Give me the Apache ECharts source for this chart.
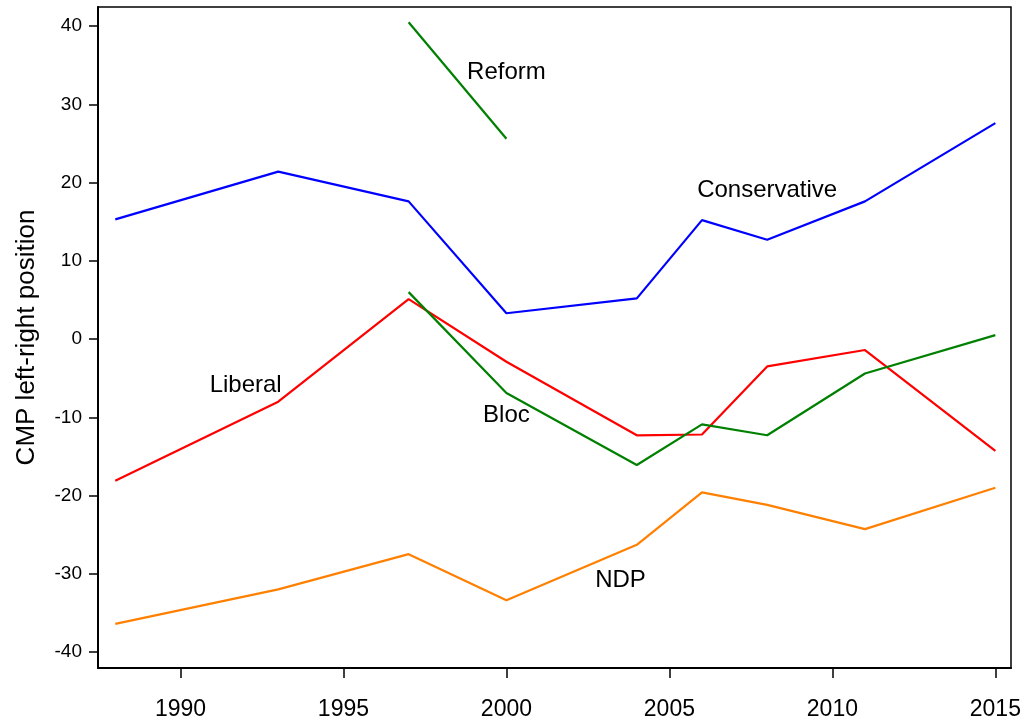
<!DOCTYPE html>
<html>
<head>
<meta charset="utf-8">
<script src="https://cdn.jsdelivr.net/npm/echarts@6/dist/echarts.min.js"></script>
<style>
  html, body { margin: 0; padding: 0; background: #fff; }
  #main { width: 1025px; height: 724px; }
</style>
</head>
<body>
<div id="main"></div>
<script>
// election years
var years = [1988, 1993, 1997, 2000, 2004, 2006, 2008, 2011, 2015];

// CMP left-right scores, '-' = party not running
var conservative = [15.3, 21.4, 17.6, 3.3, 5.2, 15.2, 12.7, 17.6, 27.6];
var liberal = [-18.1, -8.0, 5.1, -2.9, -12.3, -12.2, -3.5, -1.4, -14.3];
var bloc = ['-', '-', 6.0, -6.9, -16.1, -10.9, -12.3, -4.4, 0.5];
var ndp = [-36.4, -32.0, -27.5, -33.4, -26.3, -19.6, -21.2, -24.3, -19.0];
var reform = ['-', '-', 40.5, 25.6, '-', '-', '-', '-', '-'];

// party name labels, placed in data units
var labelNames = ['Reform', 'Conservative', 'Liberal', 'Bloc', 'NDP'];
var labelYears = [2000, 2008, 1992, 2000, 2003.5];
var labelValues = [34.1, 19.0, -5.9, -9.8, -30.9];

var xTicks = [1990, 1995, 2000, 2005, 2010, 2015];
var yTicks = [-40, -30, -20, -10, 0, 10, 20, 30, 40];

var font = "'Liberation Sans', Arial, sans-serif";

function pairs(vals) {
  return years.map(function (y, i) {
    return [y, vals[i]];
  });
}

function lineSeries(name, vals, color) {
  return {
    type: "line",
    name: name,
    data: pairs(vals),
    showSymbol: false,
    symbol: "none",
    connectNulls: false,
    lineStyle: { color: color, width: 2.2 },
    itemStyle: { color: color },
  };
}

var myChart = echarts.init(document.getElementById("main"));
var option = {
  animation: false,
  backgroundColor: "#fff",
  grid: {
    left: 98,
    right: 14,
    top: 7,
    bottom: 56,
    show: true,
    borderColor: "#000",
    borderWidth: 1.5,
    backgroundColor: "transparent",
  },
  xAxis: {
    type: "value",
    min: 1987.47,
    max: 2015.48,
    splitLine: { show: false },
    axisLine: { show: true, onZero: false, lineStyle: { color: "#000", width: 2 } },
    axisTick: {
      show: true,
      length: 10,
      customValues: xTicks,
      lineStyle: { color: "#000", width: 1.5 },
    },
    axisLabel: {
      customValues: xTicks,
      margin: 30,
      color: "#000",
      fontFamily: font,
      fontSize: 23,
      formatter: function (v) { return String(v); },
    },
  },
  yAxis: {
    type: "value",
    min: -42.05,
    max: 42.45,
    name: "CMP left-right position",
    nameLocation: "middle",
    nameGap: 58,
    nameRotate: 90,
    nameTextStyle: { color: "#000", fontFamily: font, fontSize: 26 },
    splitLine: { show: false },
    axisLine: { show: true, onZero: false, lineStyle: { color: "#000", width: 2 } },
    axisTick: {
      show: true,
      length: 9,
      customValues: yTicks,
      lineStyle: { color: "#000", width: 1.5 },
    },
    axisLabel: {
      customValues: yTicks,
      margin: 16,
      color: "#000",
      fontFamily: font,
      fontSize: 19,
    },
  },
  series: [
    lineSeries("Conservative", conservative, "#0000ff"),
    lineSeries("Liberal", liberal, "#ff0000"),
    lineSeries("Bloc", bloc, "#008000"),
    lineSeries("NDP", ndp, "#ff8000"),
    lineSeries("Reform", reform, "#008000"),
    {
      type: "scatter",
      symbolSize: 0,
      silent: true,
      itemStyle: { opacity: 1 },
      data: labelNames.map(function (n, i) {
        return { name: n, value: [labelYears[i], labelValues[i]] };
      }),
      label: {
        show: true,
        position: "inside",
        formatter: "{b}",
        color: "#000",
        opacity: 1,
        textBorderWidth: 0,
        fontFamily: font,
        fontSize: 24,
      },
    },
  ],
};
myChart.setOption(option);
</script>
</body>
</html>
